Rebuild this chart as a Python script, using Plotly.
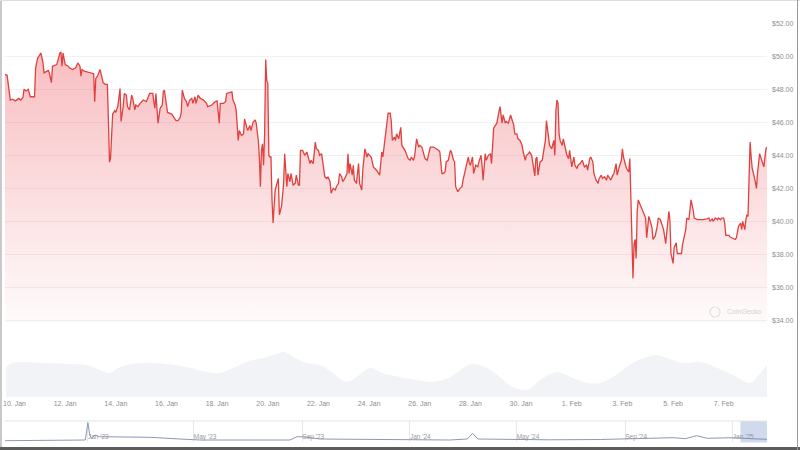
import pandas as pd
import plotly.graph_objects as go

# ---------------- data ----------------
BASE = pd.Timestamp("2025-01-10 00:00")

# hours since 10 Jan 2025 00:00 and price in USD
price_hours = [
    -9, -7, -4, -2, 1, 4, 6, 8, 9, 11,
    13, 15, 19, 20, 22, 25, 27, 28, 32, 33,
    35, 36, 40, 41, 43, 44, 45, 46, 48, 51,
    52, 55, 58, 60, 62, 63, 64, 66, 70, 73,
    75, 76, 77, 79, 81, 82, 84, 86, 88, 89,
    90, 91, 93, 95, 96, 98, 100, 101, 103, 104,
    106, 107, 109, 111, 112, 114, 115, 117, 119, 122,
    125, 128, 131, 132, 133, 134, 136, 138, 140, 141,
    142, 144, 145, 149, 150, 153, 155, 157, 158, 159,
    161, 163, 164, 166, 168, 169, 171, 172, 174, 176,
    179, 182, 183, 187, 190, 192, 194, 195, 198, 200,
    201, 203, 206, 207, 209, 210, 212, 213, 215, 217,
    218, 220, 221, 223, 224, 226, 228, 229, 231, 232,
    233, 234, 235, 236, 237, 238, 239, 240, 241, 242,
    243, 244, 245, 247, 248, 250, 251, 253, 255, 256,
    258, 259, 261, 262, 264, 266, 267, 269, 270, 271,
    273, 275, 277, 278, 280, 281, 283, 285, 286, 288,
    289, 291, 292, 294, 296, 297, 299, 300, 302, 304,
    305, 307, 308, 310, 311, 313, 315, 316, 317, 318,
    320, 321, 322, 324, 326, 327, 329, 330, 332, 334,
    335, 337, 338, 340, 343, 346, 348, 349, 351, 353,
    354, 356, 357, 358, 360, 361, 362, 364, 365, 366,
    367, 370, 373, 375, 376, 378, 379, 381, 383, 384,
    386, 387, 389, 391, 394, 397, 400, 402, 403, 405,
    406, 408, 409, 411, 413, 414, 416, 417, 418, 420,
    422, 424, 425, 427, 428, 430, 431, 432, 434, 435,
    437, 439, 440, 442, 443, 444, 446, 447, 449, 451,
    452, 454, 455, 457, 458, 460, 462, 463, 465, 466,
    468, 470, 471, 473, 474, 476, 477, 479, 481, 482,
    484, 485, 487, 488, 490, 492, 493, 494, 495, 496,
    498, 500, 501, 503, 504, 506, 507, 509, 511, 512,
    513, 514, 515, 516, 517, 519, 520, 522, 523, 525,
    526, 528, 530, 531, 533, 534, 536, 538, 540, 542,
    543, 545, 546, 548, 549, 551, 553, 554, 556, 557,
    559, 561, 562, 564, 565, 567, 568, 570, 571, 573,
    575, 576, 577, 579, 580, 582, 583, 584, 585, 586,
    587, 588, 589, 590, 591, 593, 594, 596, 598, 599,
    601, 602, 604, 605, 607, 609, 610, 612, 613, 615,
    617, 618, 620, 621, 622, 624, 625, 627, 628, 630,
    632, 633, 636, 637, 639, 640, 641, 643, 644, 647,
    650, 653, 656, 658, 659, 661, 662, 664, 666, 667,
    669, 670, 672, 673, 674, 677, 678, 680, 681, 683,
    684, 686, 688, 689, 690, 692, 693, 694, 695, 696,
    697, 698, 699, 701, 702, 703, 704, 706, 707, 709,
    710, 712, 713,
]
price_usd = [
    48.9, 48.85, 47.35, 47.4, 47.3, 47.45, 47.35, 47.5, 48.0, 47.9,
    48.0, 47.55, 47.55, 49.3, 49.9, 50.2, 49.6, 49.0, 49.15, 49.0,
    48.4, 49.4, 49.5, 49.8, 50.2, 50.26, 49.4, 50.2, 49.5, 49.4,
    49.3, 49.2, 49.3, 49.6, 49.4, 48.8, 49.2, 49.1, 49.05, 49.0,
    48.95, 47.25, 48.65, 48.85, 49.2, 48.95, 48.4, 48.3, 48.3, 46.1,
    43.6, 43.8, 46.5, 46.7, 46.6, 47.0, 48.05, 46.05, 46.95, 47.75,
    47.65, 46.95, 46.75, 47.65, 47.45, 46.75, 47.05, 46.95, 47.15, 47.35,
    47.25, 47.75, 47.75, 47.25, 46.85, 47.75, 45.95, 46.85, 47.05, 47.85,
    47.95, 47.05, 46.6, 46.5, 46.4, 46.1, 46.1, 46.3, 46.6, 47.95,
    47.45, 47.25, 46.95, 47.35, 47.45, 47.15, 47.55, 47.15, 47.65, 47.45,
    47.35, 47.15, 46.95, 47.05, 47.25, 47.3, 45.95, 47.15, 47.15, 47.25,
    47.75, 47.8, 47.85, 47.35, 47.05, 46.75, 44.9, 45.5, 45.2, 45.3,
    46.2, 45.7, 45.5, 45.8, 45.5, 46.0, 46.15, 45.95, 44.9, 43.9,
    42.1, 44.3, 44.7, 43.4, 45.3, 49.8, 48.55, 48.35, 44.0, 43.9,
    43.9, 41.3, 39.9, 41.9, 42.1, 42.6, 40.4, 40.9, 42.3, 44.1,
    42.1, 42.9, 42.4, 42.9, 42.2, 42.3, 42.8, 42.2, 42.2, 44.3,
    44.3, 44.0, 44.2, 43.9, 43.5, 43.7, 43.5, 44.8, 44.4, 44.3,
    44.0, 44.1, 43.7, 42.7, 42.6, 42.7, 42.4, 41.7, 42.0, 41.9,
    42.1, 42.3, 42.9, 42.7, 42.4, 42.6, 42.9, 44.1, 42.9, 43.5,
    42.8, 43.4, 42.5, 42.3, 43.5, 42.3, 41.9, 43.1, 44.4, 43.9,
    44.1, 44.0, 43.9, 43.3, 43.1, 42.8, 44.2, 43.9, 45.1, 46.0,
    46.55, 46.55, 46.05, 44.9, 45.1, 44.9, 45.3, 45.0, 45.5, 45.7,
    44.6, 44.3, 43.8, 43.7, 43.9, 43.7, 43.9, 45.0, 44.5, 44.6,
    44.5, 44.2, 43.8, 43.7, 44.5, 44.5, 44.4, 44.3, 44.2, 42.9,
    42.9, 43.0, 43.6, 43.7, 44.3, 44.2, 43.7, 43.6, 42.1, 41.8,
    42.0, 42.1, 42.5, 43.1, 43.5, 43.9, 43.5, 43.4, 43.9, 42.9,
    43.4, 43.3, 43.6, 44.0, 43.4, 42.5, 44.1, 43.7, 44.0, 44.1,
    43.5, 45.65, 45.75, 45.95, 46.3, 46.95, 45.95, 46.45, 45.95, 46.05,
    45.95, 46.45, 46.25, 45.85, 45.3, 45.3, 45.0, 44.9, 44.6, 44.2,
    43.7, 44.0, 44.1, 44.2, 44.0, 43.2, 42.75, 43.8, 43.9, 42.8,
    43.6, 43.7, 44.1, 44.9, 46.1, 44.9, 44.6, 44.4, 44.9, 44.0,
    46.7, 47.35, 47.15, 45.3, 44.9, 44.6, 45.0, 44.4, 44.1, 43.8,
    44.3, 43.3, 43.9, 43.4, 43.2, 43.4, 43.5, 43.7, 43.3, 43.4,
    43.1, 43.8, 43.9, 43.6, 42.9, 42.5, 42.3, 42.6, 42.8, 42.6,
    42.7, 42.5, 42.8, 42.6, 42.5, 42.8, 42.9, 43.5, 42.8, 43.3,
    43.7, 44.4, 43.9, 43.4, 43.2, 43.0, 43.8, 41.5, 38.9, 36.55,
    38.6, 38.9, 37.75, 40.6, 41.3, 41.0, 40.8, 40.6, 40.2, 39.0,
    40.3, 40.1, 39.6, 38.9, 39.1, 39.7, 40.2, 40.1, 39.9, 39.5,
    38.65, 39.4, 40.6, 40.1, 38.05, 37.45, 38.4, 38.7, 38.05, 38.05,
    38.05, 38.6, 39.5, 40.2, 40.1, 40.7, 41.3, 40.7, 40.2, 40.1,
    40.1, 40.1, 40.15, 40.2, 40.0, 40.15, 40.0, 40.2, 40.1, 40.2,
    40.1, 40.2, 40.2, 39.85, 39.15, 39.15, 39.05, 39.0, 38.95, 38.9,
    39.0, 39.7, 39.9, 39.5, 40.0, 39.5, 40.1, 40.4, 40.3, 42.7,
    44.8, 43.9, 43.2, 42.7, 42.2, 42.0, 42.9, 44.1, 43.9, 43.4,
    43.3, 44.4, 44.5,
]

# trading volume (relative, millions USD) at hours since 10 Jan 2025
volume_hours = [
    -8, -2, 30, 52, 68, 81, 90, 100, 119, 144,
    163, 182, 194, 207, 220, 235, 245, 256, 264, 277,
    289, 299, 315, 324, 337, 349, 365, 381, 397, 413,
    425, 434, 448, 460, 472, 486, 498, 514, 529, 543,
    555, 567, 583, 596, 609, 618, 634, 650, 666, 681,
    697, 705, 713,
]
volume_musd = [
    30, 34, 34, 33, 32, 27, 24, 30, 34, 33,
    30, 25, 24, 29, 35, 39, 42, 45, 40, 34,
    32, 26, 15, 20, 29, 24, 20, 17, 15, 20,
    29, 33, 29, 20, 10, 7, 17, 25, 19, 14,
    14, 20, 32, 39, 42, 39, 34, 35, 29, 22,
    14, 22, 32,
]

# all-time navigator series
nav_dates = [
    "2022-09-29", "2022-12-29", "2023-01-01", "2023-01-03", "2023-01-05",
    "2023-01-09", "2023-01-14", "2023-01-29", "2023-03-12", "2023-04-15",
    "2023-05-08", "2023-07-04", "2023-08-18", "2023-08-26", "2023-09-04",
    "2023-09-21", "2023-12-20", "2024-02-15", "2024-03-06", "2024-03-12",
    "2024-03-18", "2024-06-07", "2024-08-04", "2024-10-26", "2024-11-08",
    "2024-11-21", "2024-12-03", "2025-01-02", "2025-01-21", "2025-02-08 17:00",
]
nav_usd = [
    30, 37, 210, 87, 54, 87, 70, 70, 64, 47,
    37, 37, 37, 70, 67, 47, 42, 37, 47, 104,
    47, 39, 42, 60, 50, 80, 54, 60, 50, 44,
]

Y_MIN, Y_MAX = 33.84, 52.0

# ---------------- figure ----------------
W, H = 800, 450


def fx(p):
    return p / W


def fy(p):
    return 1 - p / H


price_time = BASE + pd.to_timedelta(price_hours, unit="h")
vol_time = BASE + pd.to_timedelta(volume_hours, unit="h")

FONT = "Liberation Sans, Arial, sans-serif"
LABEL = "#8f8f8f"

fig = go.Figure()

fig.add_trace(go.Scatter(
    x=vol_time, y=volume_musd, mode="lines",
    line=dict(width=0, shape="spline", color="rgba(200,205,220,0.3)"),
    fill="tozeroy", fillcolor="rgba(205,210,225,0.26)",
    xaxis="x", yaxis="y2", hoverinfo="skip", showlegend=False,
))

fig.add_trace(go.Scatter(
    x=price_time, y=price_usd, mode="lines",
    line=dict(color="#e0413f", width=1.3),
    fill="tozeroy",
    fillgradient=dict(
        type="vertical",
        colorscale=[[0, "rgba(234,57,67,0.02)"], [1, "rgba(234,57,67,0.33)"]],
        start=Y_MIN, stop=max(price_usd),
    ),
    xaxis="x", yaxis="y", hoverinfo="skip", showlegend=False,
))

fig.add_trace(go.Scatter(
    x=nav_dates, y=nav_usd, mode="lines",
    line=dict(color="#8b98b6", width=1),
    xaxis="x2", yaxis="y3", hoverinfo="skip", showlegend=False,
))

x_dom = [fx(5), fx(767)]

fig.update_layout(
    width=W, height=H, autosize=False,
    margin=dict(l=0, r=0, t=0, b=0),
    paper_bgcolor="white", plot_bgcolor="white",
    font=dict(family=FONT, color=LABEL, size=7),
    showlegend=False,
    xaxis=dict(
        domain=x_dom, anchor="y2", type="date",
        range=[price_time[0], price_time[-1]],
        tick0="2025-01-10", dtick=2 * 86400000, tickformat="%-d. %b",
        showgrid=False, zeroline=False, showline=False, ticks="",
        ticklabelstandoff=1,
        tickfont=dict(size=7, color=LABEL), automargin=False,
    ),
    yaxis=dict(
        domain=[fy(323), fy(23.3)], anchor="x", side="right",
        range=[Y_MIN, Y_MAX], tick0=34, dtick=2,
        tickprefix="$", tickformat=".2f",
        showgrid=True, gridcolor="#f1f1f1", gridwidth=1,
        zeroline=False, showline=False, ticks="",
        ticklabelstandoff=4,
        tickfont=dict(size=7, color=LABEL), automargin=False,
    ),
    yaxis2=dict(
        domain=[fy(397), fy(345)], anchor="x", range=[0, 52],
        visible=False,
    ),
    xaxis2=dict(
        domain=x_dom, anchor="y3", type="date",
        range=[nav_dates[0], nav_dates[-1]],
        tick0="2023-01-01", dtick="M4", tickformat="%b '%y",
        ticklabelposition="inside right", ticklabelstandoff=-4,
        showgrid=True, gridcolor="#e9e9e9", gridwidth=1,
        zeroline=False, showline=False, ticks="",
        tickfont=dict(size=6.5, color="#9a9a9a"), automargin=False,
    ),
    yaxis3=dict(
        domain=[fy(442), fy(421)], anchor="x2", range=[17, 227],
        visible=False,
    ),
)

shapes = [
    # navigator top border
    dict(type="line", xref="paper", yref="paper",
         x0=fx(5), x1=fx(767), y0=fy(421), y1=fy(421),
         line=dict(color="#e3e3e3", width=1)),
    # selected range in navigator
    dict(type="rect", xref="x2", yref="paper",
         x0=price_time[0], x1=price_time[-1], y0=fy(442.5), y1=fy(421.5),
         fillcolor="rgba(102,133,194,0.3)", line=dict(width=0), layer="above"),
    # frame
    dict(type="line", xref="paper", yref="paper",
         x0=fx(1), x1=fx(1), y0=fy(0), y1=fy(448),
         line=dict(color="#c9c9c9", width=2)),
    dict(type="line", xref="paper", yref="paper",
         x0=0, x1=1, y0=fy(0.5), y1=fy(0.5),
         line=dict(color="#dedede", width=1)),
    dict(type="line", xref="paper", yref="paper",
         x0=0, x1=1, y0=fy(448.5), y1=fy(448.5),
         line=dict(color="#5c5c5c", width=3)),
    dict(type="line", xref="paper", yref="paper",
         x0=fx(797.5), x1=fx(797.5), y0=fy(0), y1=fy(450),
         line=dict(color="#9a9a9a", width=1)),
    # watermark logo
    dict(type="circle", xref="paper", yref="paper",
         x0=fx(710), x1=fx(720), y0=fy(317), y1=fy(307),
         line=dict(color="#e0e0e0", width=1.2), fillcolor="rgba(0,0,0,0)"),
]
fig.update_layout(shapes=shapes)

fig.add_annotation(
    x=fx(725), y=fy(311.5), xref="paper", yref="paper",
    text="CoinGecko", showarrow=False, xanchor="left", yanchor="middle",
    font=dict(family=FONT, size=7, color="#d2d2d2"),
)

fig.write_html(
    "out.html",
    config=dict(displayModeBar=False, staticPlot=True),
    post_script="document.body.style.margin='0';document.body.style.overflow='hidden';",
)
